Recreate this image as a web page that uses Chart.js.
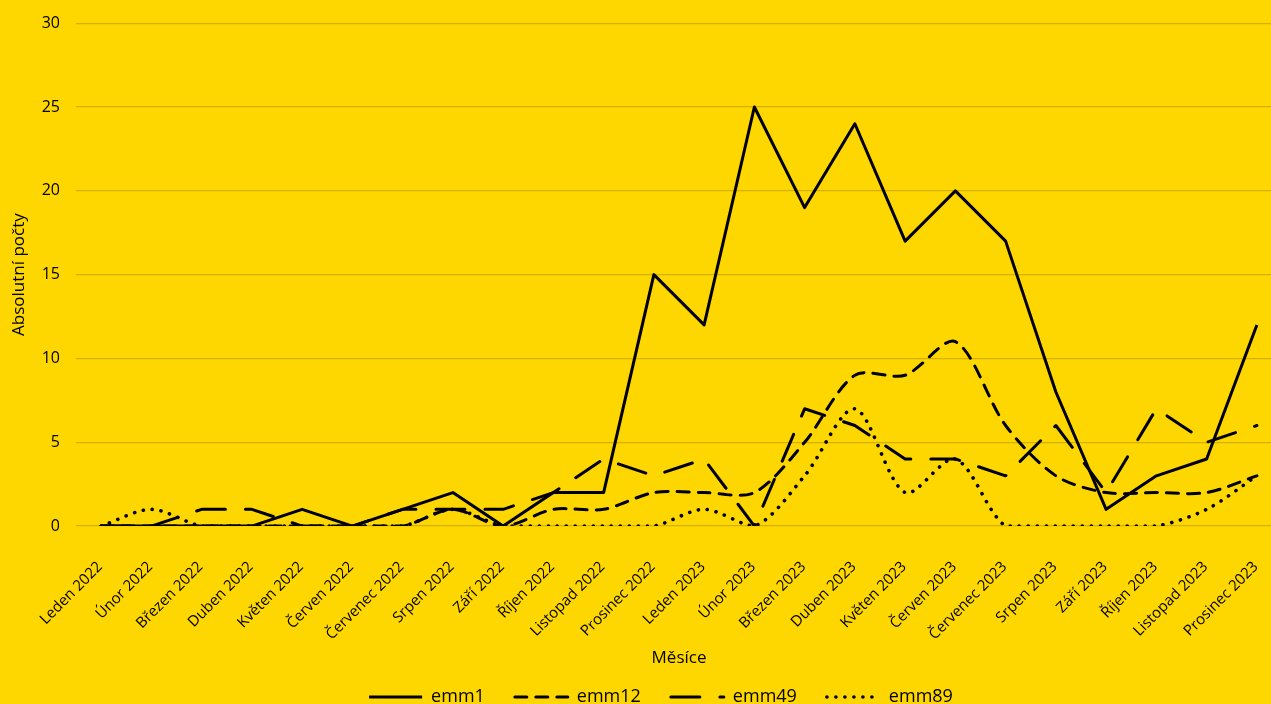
<!DOCTYPE html>
<html>
<head>
<meta charset="utf-8">
<script src="https://cdn.jsdelivr.net/npm/chart.js@4/dist/chart.umd.min.js"></script>
<style>
  html, body { margin: 0; padding: 0; background: #FFD700; overflow: hidden; }
  #wrap { width: 1324px; height: 704px; }
</style>
</head>
<body>
<div id="wrap"><canvas id="c" width="1324" height="704"></canvas></div>
<script>
// Months (Czech) and monthly absolute counts per series
const months = [
  'Leden 2022', 'Únor 2022', 'Březen 2022', 'Duben 2022', 'Květen 2022', 'Červen 2022',
  'Červenec 2022', 'Srpen 2022', 'Září 2022', 'Říjen 2022', 'Listopad 2022', 'Prosinec 2022',
  'Leden 2023', 'Únor 2023', 'Březen 2023', 'Duben 2023', 'Květen 2023', 'Červen 2023',
  'Červenec 2023', 'Srpen 2023', 'Září 2023', 'Říjen 2023', 'Listopad 2023', 'Prosinec 2023'
];
const emm1  = [0, 0, 0, 0, 1, 0, 1, 2, 0, 2, 2, 15, 12, 25, 19, 24, 17, 20, 17, 8, 1, 3, 4, 12];
const emm12 = [0, 0, 0, 0, 0, 0, 0, 1, 0, 1, 1, 2, 2, 2, 5, 9, 9, 11, 6, 3, 2, 2, 2, 3];
const emm49 = [0, 0, 1, 1, 0, 0, 1, 1, 1, 2, 4, 3, 4, 0, 7, 6, 4, 4, 3, 6, 2, 7, 5, 6];
const emm89 = [0, 1, 0, 0, 0, 0, 0, 1, 0, 0, 0, 0, 1, 0, 3, 7, 2, 4, 0, 0, 0, 0, 1, 3];
const yTicks = { min: 0, max: 30, step: 5 };

const FONT = '"Open Sans", "Liberation Sans", sans-serif';
const INK = '#000000';

function series(label, data, dash, tension, cap, width) {
  return {
    label, data,
    borderColor: INK,
    backgroundColor: INK,
    borderWidth: width || 3,
    borderDash: dash,
    borderCapStyle: cap,
    borderJoinStyle: 'round',
    tension: tension,
    pointRadius: 0,
    pointHoverRadius: 0,
    fill: false
  };
}

new Chart(document.getElementById('c'), {
  type: 'line',
  data: {
    labels: months,
    datasets: [
      series('emm1', emm1, [], 0, 'butt'),
      series('emm12', emm12, [12, 9], 0.3, 'round'),
      series('emm49', emm49, [29, 20], 0, 'round'),
      series('emm89', emm89, [0.1, 8.9], 0.3, 'round', 3.6)
    ]
  },
  options: {
    responsive: false,
    animation: false,
    events: [],
    layout: { padding: { top: 10, right: 42, left: 40, bottom: -12 } },
    plugins: {
      tooltip: { enabled: false },
      legend: {
        position: 'bottom',
        align: 'center',
        labels: {
          usePointStyle: true,
          pointStyle: 'line',
          pointStyleWidth: 53,
          boxHeight: 18,
          padding: 30,
          color: INK,
          font: { family: FONT, size: 18 },
          // keep each series' dash pattern and weight on its legend sample
          generateLabels(chart) {
            const items = Chart.defaults.plugins.legend.labels.generateLabels(chart);
            items.forEach(it => {
              const ds = chart.data.datasets[it.datasetIndex];
              it.lineDash = ds.borderDash;
              it.lineCap = ds.borderCapStyle;
              it.lineWidth = ds.borderWidth;
              it.strokeStyle = INK;
              it.fillStyle = INK;
            });
            return items;
          }
        }
      }
    },
    scales: {
      x: {
        offset: true,
        grid: { display: false },
        border: { display: false },
        ticks: {
          autoSkip: false,
          maxRotation: 45,
          minRotation: 45,
          color: INK,
          padding: 24,
          labelOffset: -1,
          font: { family: FONT, size: 15 }
        },
        title: {
          display: true,
          text: 'Měsíce',
          color: INK,
          padding: { top: -20, bottom: -10 },
          font: { family: FONT, size: 17 }
        }
      },
      y: {
        min: yTicks.min,
        max: yTicks.max,
        grid: { color: '#D4B000', lineWidth: 1.2, drawTicks: false },
        border: { display: false },
        ticks: {
          stepSize: yTicks.step,
          color: INK,
          padding: 16,
          font: { family: FONT, size: 16, lineHeight: 0.9 }
        },
        title: {
          display: true,
          text: 'Absolutní počty',
          color: INK,
          padding: { top: -31, bottom: 0 },
          font: { family: FONT, size: 17 }
        },
        afterFit(scale) { scale.width = 36; }
      }
    }
  }
});
</script>
</body>
</html>
